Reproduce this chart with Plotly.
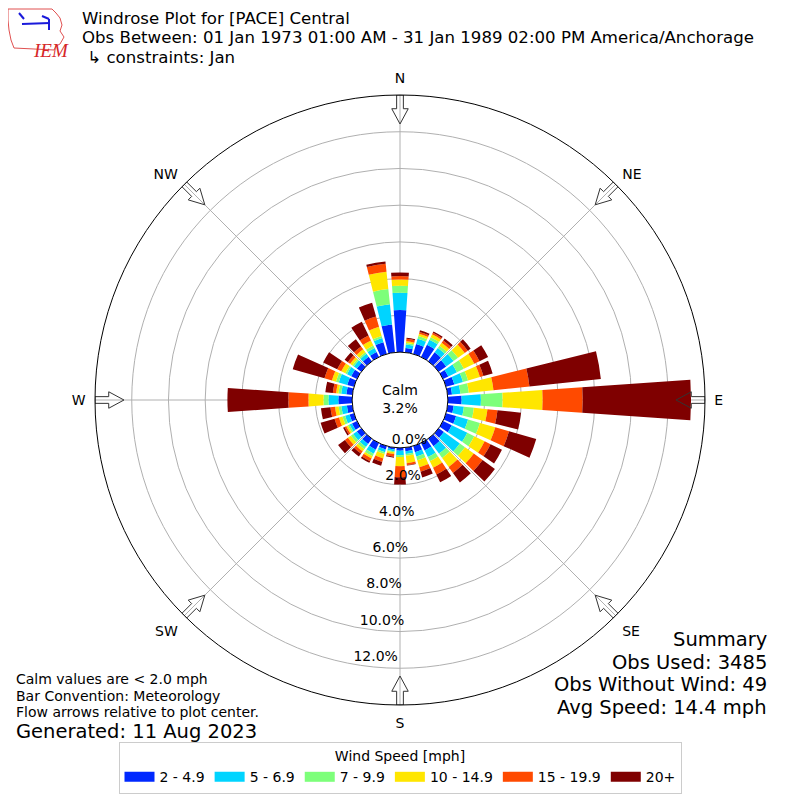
import numpy as np
import plotly.graph_objects as go

# wind directions (deg, meteorological) and frequency (%) per speed class
directions = list(range(0, 360, 10))
speed_bins = ['2 - 4.9', '5 - 6.9', '7 - 9.9', '10 - 14.9', '15 - 19.9', '20+']
bin_colors = ['#0028ff', '#00d4ff', '#7dff7a', '#ffe600', '#ff4a00', '#7f0000']

spd_2_5 = [2.29, 0.24, 0.57, 0.74, 0.60, 0.50, 0.32, 0.47, 0.24, 0.75, 0.33, 0.57,
           0.53, 0.35, 0.50, 0.45, 0.35, 0.20, 0.15, 0.10, 0.20, 0.40, 0.35, 0.30,
           0.30, 0.25, 0.30, 0.75, 0.33, 0.38, 0.35, 0.30, 0.30, 0.30, 0.67, 1.53]
spd_5_7 = [0.94, 0.19, 0.29, 0.31, 0.30, 0.50, 0.52, 0.49, 0.46, 1.05, 0.56, 0.68,
           0.94, 1.07, 0.50, 0.40, 0.25, 0.15, 0.25, 0.10, 0.15, 0.25, 0.20, 0.25,
           0.15, 0.25, 0.30, 0.54, 0.28, 0.48, 0.25, 0.20, 0.20, 0.25, 0.23, 1.11]
spd_7_10 = [0.38, 0.09, 0.16, 0.15, 0.15, 0.30, 0.42, 0.29, 0.46, 1.18, 0.55, 0.67,
            0.42, 0.35, 0.30, 0.25, 0.20, 0.10, 0.10, 0.05, 0.10, 0.15, 0.15, 0.15,
            0.10, 0.15, 0.15, 0.27, 0.15, 0.16, 0.10, 0.10, 0.10, 0.15, 0.12, 0.83]
spd_10_15 = [0.35, 0.09, 0.13, 0.17, 0.20, 0.45, 0.63, 0.67, 1.35, 2.18, 0.74, 0.87,
             0.63, 0.59, 0.60, 0.40, 0.40, 0.40, 0.50, 0.10, 0.25, 0.13, 0.15, 0.20,
             0.10, 0.20, 0.20, 0.82, 0.13, 0.23, 0.25, 0.15, 0.20, 0.30, 0.52, 0.95]
spd_15_20 = [0.18, 0.13, 0.10, 0.10, 0.15, 0.20, 0.32, 0.20, 1.97, 2.18, 0.55, 0.78,
             0.36, 0.59, 0.40, 0.40, 0.25, 0.10, 0.60, 0.15, 0.20, 0.17, 0.15, 0.20,
             0.10, 0.25, 0.25, 1.09, 0.18, 0.42, 0.25, 0.15, 0.20, 0.30, 0.58, 0.43]
spd_20_up = [0.20, 0.06, 0.09, 0.08, 0.13, 0.20, 0.52, 0.52, 3.91, 5.90, 1.29, 1.54,
             0.69, 0.83, 0.64, 0.48, 0.33, 0.03, 0.40, 0.05, 0.22, 0.10, 0.20, 0.46,
             0.09, 0.79, 0.52, 3.32, 0.41, 1.80, 0.85, 0.22, 0.48, 0.83, 0.78, 0.13]

r_ticks = [0, 2, 4, 6, 8, 10, 12]
r_tick_labels = ['0.0%', '2.0%', '4.0%', '6.0%', '8.0%', '10.0%', '12.0%']
compass_vals = [0, 45, 90, 135, 180, 225, 270, 315]
compass_text = ['N', 'NE', 'E', 'SE', 'S', 'SW', 'W', 'NW']

calm_pct = 3.2
obs_used = 3485
obs_no_wind = 49
avg_speed = 14.4

R_MAX = 14
HOLE = 0.157
FONT = 'DejaVu Sans'
OFF = 8  # page body margin, figure is drawn 8px in from the window edge


def px(sx):
    return (sx - OFF) / 800


def py(sy):
    return 1 - (sy - OFF) / 800


fig = go.Figure()

for name, vals, col in zip(speed_bins,
                           [spd_2_5, spd_5_7, spd_7_10, spd_10_15, spd_15_20, spd_20_up],
                           bin_colors):
    fig.add_trace(go.Barpolar(
        r=vals, theta=directions, width=8, name=name, showlegend=False,
        marker=dict(color=col, line=dict(width=0)),
    ))
    # legend swatch: a thick line gives the wide rectangle of the original
    fig.add_trace(go.Scatterpolar(
        r=[None], theta=[None], mode='lines', name=name,
        line=dict(color=col, width=10), hoverinfo='skip',
    ))


# outline arrows at the rim, pointing to the centre (size in fractions of radius)
def arrow_outline(compass_deg):
    pts = [(0.905, 0), (0.955, 0.027), (0.955, 0.011), (1.0, 0.011),
           (1.0, -0.011), (0.955, -0.011), (0.955, -0.027), (0.905, 0)]
    a = np.radians(compass_deg)
    r_out, t_out = [], []
    for along, across in pts:
        x = along * np.sin(a) + across * np.cos(a)
        y = along * np.cos(a) - across * np.sin(a)
        rho = np.hypot(x, y)
        r_out.append((rho - HOLE) / (1 - HOLE) * R_MAX)
        t_out.append(np.degrees(np.arctan2(x, y)) % 360)
    return r_out, t_out


for d in compass_vals:
    ar, at = arrow_outline(d)
    fig.add_trace(go.Scatterpolar(
        r=ar, theta=at, mode='lines', line=dict(color='#333333', width=1),
        showlegend=False, hoverinfo='skip', cliponaxis=False,
    ))

# radial tick labels along the south spoke
fig.add_trace(go.Scatterpolar(
    r=r_ticks, theta=[190] * len(r_ticks), mode='text', text=r_tick_labels,
    textposition='top right', textfont=dict(family=FONT, size=14, color='black'),
    showlegend=False, hoverinfo='skip', cliponaxis=False,
))

fig.update_layout(
    width=800, height=800,
    margin=dict(l=0, r=0, t=0, b=0),
    paper_bgcolor='white',
    font=dict(family=FONT, size=14, color='black'),
    polar=dict(
        domain=dict(x=[px(95), px(705)], y=[py(705), py(95)]),
        hole=HOLE,
        bgcolor='white',
        barmode='stack',
        radialaxis=dict(range=[0, R_MAX], tickvals=r_ticks, showticklabels=False,
                        ticks='', showline=False, gridcolor='#b0b0b0', gridwidth=1,
                        layer='above traces'),
        angularaxis=dict(rotation=90, direction='clockwise', tickmode='array',
                         tickvals=compass_vals, ticktext=compass_text,
                         showline=True, linecolor='black', linewidth=1,
                         gridcolor='#b0b0b0', gridwidth=1, layer='above traces',
                         ticks='outside', ticklen=6, tickcolor='rgba(0,0,0,0)',
                         tickfont=dict(family=FONT, size=14)),
    ),
    legend=dict(
        orientation='h', x=px(400), xanchor='center', y=py(742), yanchor='top',
        title=dict(text='Wind Speed [mph]', side='top center',
                   font=dict(family=FONT, size=14)),
        font=dict(family=FONT, size=14),
        bordercolor='#cccccc', borderwidth=1, bgcolor='white',
        itemwidth=30,
    ),
)

annos = [
    dict(x=80, y=18.5, text='Windrose Plot for [PACE] Central', size=16.6),
    dict(x=80, y=38, text='Obs Between: 01 Jan 1973 01:00 AM - 31 Jan 1989 02:00 PM America/Anchorage',
         size=16.6),
    dict(x=80, y=57.5, text=' \u21b3 constraints: Jan', size=16.6),
    dict(x=14, y=679, text='Calm values are < 2.0 mph', size=14),
    dict(x=14, y=695.5, text='Bar Convention: Meteorology', size=14),
    dict(x=14, y=712, text='Flow arrows relative to plot center.', size=14),
    dict(x=14, y=731, text='Generated: 11 Aug 2023', size=19.5),
]
for a in annos:
    fig.add_annotation(xref='paper', yref='paper', x=px(a['x']), y=py(a['y']), text=a['text'],
                       showarrow=False, xanchor='left', yanchor='middle',
                       font=dict(family=FONT, size=a['size'], color='black'))

summary = ['Summary', 'Obs Used: %d' % obs_used,
           'Obs Without Wind: %d' % obs_no_wind, 'Avg Speed: %.1f mph' % avg_speed]
for i, line in enumerate(summary):
    fig.add_annotation(xref='paper', yref='paper', x=px(769), y=py(639.5 + 22.5 * i),
                       text=line, showarrow=False, xanchor='right', yanchor='middle',
                       font=dict(family=FONT, size=19.5, color='black'))

fig.add_annotation(xref='paper', yref='paper', x=px(400), y=py(399),
                   text='Calm<br>%.1f%%' % calm_pct, showarrow=False,
                   font=dict(family=FONT, size=14, color='black'))

# rough stand-in for the IEM logo: state outline, station glyph and lettering
iowa = [(8, 9), (52, 9), (56, 13), (60, 18), (62, 25), (60, 31), (64, 37), (60, 44),
        (56, 46), (54, 50), (14, 48), (11, 40), (9, 30), (8, 20), (8, 9)]
for (x0, y0), (x1, y1) in zip(iowa[:-1], iowa[1:]):
    fig.add_shape(type='line', xref='paper', yref='paper',
                  x0=px(x0), y0=py(y0), x1=px(x1), y1=py(y1),
                  line=dict(color='#e05050', width=1))
glyph = [[(22, 24), (50, 23)], [(19, 13), (24, 19)], [(42, 16), (49, 19)], [(49, 19), (49, 30)]]
for (x0, y0), (x1, y1) in glyph:
    fig.add_shape(type='line', xref='paper', yref='paper',
                  x0=px(x0), y0=py(y0), x1=px(x1), y1=py(y1),
                  line=dict(color='#1a1adb', width=2))
fig.add_annotation(xref='paper', yref='paper', x=px(31), y=py(38), text='<i>IEM</i>',
                   showarrow=False, font=dict(family='Liberation Serif', size=19, color='#d62728'))

fig.write_html('out.html')
